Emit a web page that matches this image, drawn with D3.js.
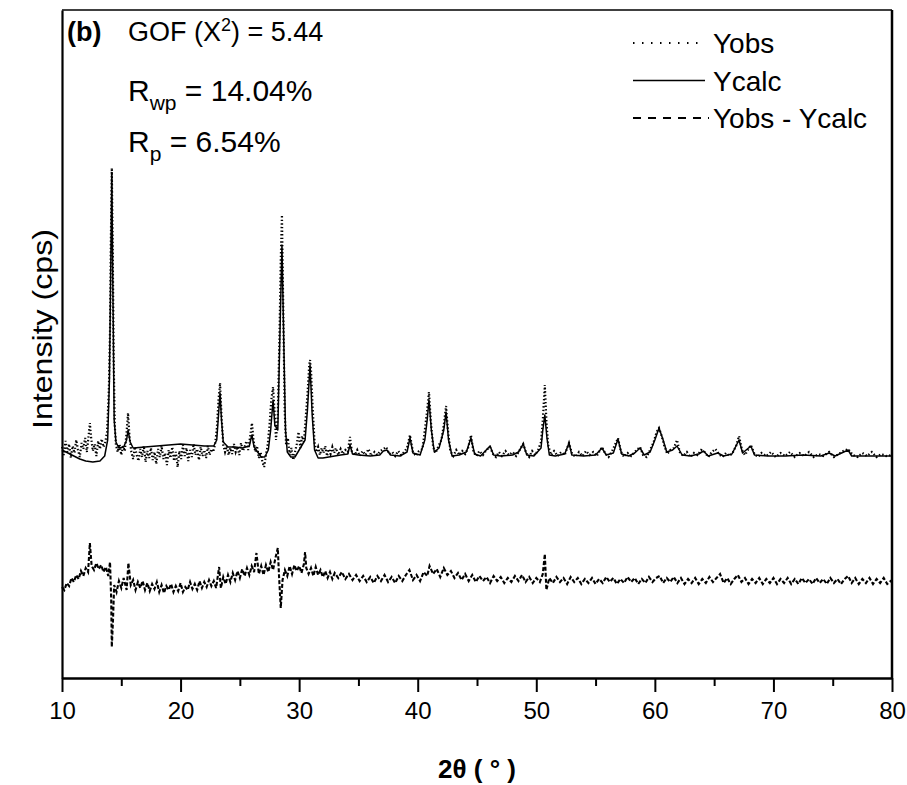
<!DOCTYPE html>
<html>
<head>
<meta charset="utf-8">
<script src="https://cdn.jsdelivr.net/npm/d3@7"></script>
<style>
  body { margin: 0; background: #fff; }
  text { font-family: "Liberation Sans", Arial, sans-serif; fill: #000; }
</style>
</head>
<body>
<svg id="chart" width="907" height="785"></svg>
<script>
// 2theta (deg), intensity (cps)
const yObs = [
  [10.0,2310],[10.15,2230],[10.3,2370],[10.45,2260],[10.6,2340],[10.75,2200],[10.9,2320],[11.05,2250],
  [11.2,2380],[11.35,2280],[11.5,2210],[11.65,2350],[11.8,2290],[11.95,2400],[12.1,2260],[12.25,2430],
  [12.35,2550],[12.45,2410],[12.6,2270],[12.75,2340],[12.9,2220],[13.05,2370],[13.2,2290],[13.35,2390],
  [13.5,2310],[13.65,2360],[13.8,2460],[13.95,2880],[14.05,3480],[14.12,4380],[14.2,5100],[14.28,4280],
  [14.36,3180],[14.45,2530],[14.55,2330],[14.7,2260],[14.85,2340],[15.0,2230],[15.15,2320],[15.3,2270],
  [15.45,2460],[15.57,2650],[15.7,2400],[15.85,2260],[16.0,2190],[16.15,2310],[16.3,2230],[16.45,2170],
  [16.6,2290],[16.75,2210],[16.9,2320],[17.05,2160],[17.2,2270],[17.35,2200],[17.5,2300],[17.65,2180],
  [17.8,2260],[17.95,2140],[18.1,2290],[18.25,2210],[18.4,2320],[18.55,2190],[18.7,2250],[18.85,2130],
  [19.0,2280],[19.15,2200],[19.3,2310],[19.45,2170],[19.6,2260],[19.75,2110],[19.9,2270],[20.05,2190],
  [20.2,2330],[20.35,2220],[20.5,2300],[20.65,2170],[20.8,2280],[20.95,2210],[21.1,2340],[21.25,2230],
  [21.4,2290],[21.55,2180],[21.7,2310],[21.85,2220],[22.0,2280],[22.15,2200],[22.3,2320],[22.45,2230],
  [22.6,2290],[22.75,2260],[22.9,2330],[23.05,2480],[23.2,2780],[23.33,2950],[23.45,2630],[23.6,2330],
  [23.75,2260],[23.9,2320],[24.05,2230],[24.2,2300],[24.35,2240],[24.5,2340],[24.65,2260],[24.8,2310],
  [24.95,2230],[25.1,2350],[25.25,2270],[25.4,2310],[25.55,2370],[25.7,2280],[25.85,2400],[26.02,2550],
  [26.15,2380],[26.3,2260],[26.45,2320],[26.6,2200],[26.75,2260],[26.9,2160],[27.05,2110],[27.2,2230],
  [27.35,2330],[27.5,2530],[27.65,2780],[27.8,2910],[27.92,2680],[28.05,2380],[28.2,2630],[28.35,3480],
  [28.45,4180],[28.55,4630],[28.65,3780],[28.78,2680],[28.9,2330],[29.05,2400],[29.2,2230],[29.35,2300],
  [29.5,2180],[29.65,2260],[29.8,2340],[29.95,2460],[30.1,2300],[30.25,2420],[30.4,2360],[30.55,2600],
  [30.7,2830],[30.85,3130],[30.92,3180],[31.0,3080],[31.15,2680],[31.3,2360],[31.45,2260],[31.6,2310],
  [31.75,2230],[31.9,2300],[32.05,2250],[32.2,2320],[32.35,2220],[32.5,2290],[32.65,2240],[32.8,2310],
  [32.95,2250],[33.1,2300],[33.3,2230],[33.5,2290],[33.7,2240],[33.9,2280],[34.1,2260],[34.29,2410],
  [34.45,2260],[34.7,2230],[34.9,2280],[35.1,2220],[35.35,2270],[35.6,2230],[35.85,2290],[36.1,2220],
  [36.35,2260],[36.6,2230],[36.85,2270],[37.1,2290],[37.35,2310],[37.6,2240],[37.85,2260],[38.1,2220],
  [38.35,2270],[38.6,2230],[38.85,2260],[39.1,2300],[39.35,2430],[39.6,2260],[39.85,2220],[40.1,2270],
  [40.4,2290],[40.6,2480],[40.8,2680],[40.95,2860],[41.1,2580],[41.3,2310],[41.5,2250],[41.75,2320],
  [42.0,2380],[42.2,2530],[42.39,2720],[42.55,2480],[42.75,2270],[43.0,2220],[43.25,2280],[43.5,2230],
  [43.75,2270],[44.0,2240],[44.25,2300],[44.49,2430],[44.7,2260],[44.95,2220],[45.2,2270],[45.5,2230],
  [45.8,2280],[46.1,2310],[46.35,2240],[46.6,2210],[46.85,2260],[47.1,2220],[47.4,2270],[47.7,2230],
  [48.0,2260],[48.3,2220],[48.6,2280],[48.9,2340],[49.15,2250],[49.4,2210],[49.65,2270],[49.9,2230],
  [50.15,2280],[50.4,2360],[50.55,2580],[50.72,2930],[50.85,2580],[51.0,2330],[51.25,2230],[51.5,2270],
  [51.8,2220],[52.1,2260],[52.4,2230],[52.76,2350],[53.0,2250],[53.3,2210],[53.6,2260],[53.9,2220],
  [54.2,2270],[54.5,2230],[54.8,2260],[55.1,2220],[55.54,2310],[55.8,2250],[56.1,2210],[56.4,2270],
  [56.89,2400],[57.15,2260],[57.4,2210],[57.7,2250],[58.0,2220],[58.3,2260],[58.75,2310],[59.0,2230],
  [59.3,2210],[59.6,2280],[59.9,2360],[60.15,2460],[60.35,2500],[60.55,2430],[60.8,2320],[61.05,2240],
  [61.3,2280],[61.6,2300],[61.87,2380],[62.1,2260],[62.4,2220],[62.7,2260],[63.0,2210],[63.3,2250],
  [63.6,2230],[63.9,2280],[64.2,2260],[64.5,2210],[64.8,2260],[65.1,2290],[65.4,2240],[65.7,2210],
  [66.0,2250],[66.3,2220],[66.6,2260],[66.85,2320],[67.1,2420],[67.35,2280],[67.6,2230],[67.85,2280],
  [68.1,2330],[68.4,2240],[68.7,2210],[69.0,2250],[69.4,2220],[69.8,2260],[70.2,2210],[70.6,2250],
  [71.0,2220],[71.4,2260],[71.8,2210],[72.2,2250],[72.6,2220],[73.0,2260],[73.4,2210],[73.8,2240],
  [74.2,2220],[74.7,2260],[75.1,2210],[75.5,2240],[75.9,2270],[76.3,2290],[76.7,2230],[77.1,2210],
  [77.5,2250],[77.9,2220],[78.3,2260],[78.7,2210],[79.1,2240],[79.5,2220],[80.0,2230]
];

const yCalc = [
  [10.0,2280],[10.5,2250],[11.0,2220],[11.5,2190],[12.0,2170],[12.6,2160],[13.2,2170],[13.6,2220],
  [13.85,2380],[14.0,2980],[14.1,3980],[14.2,5050],[14.3,3780],[14.4,2580],[14.55,2360],[14.8,2300],
  [15.2,2310],[15.45,2380],[15.57,2480],[15.75,2360],[16.0,2300],[17.0,2310],[18.0,2320],[19.0,2330],
  [20.0,2340],[21.0,2330],[22.0,2320],[22.8,2320],[23.05,2380],[23.2,2630],[23.33,2850],[23.45,2580],
  [23.6,2360],[24.0,2310],[24.6,2310],[25.2,2300],[25.8,2320],[25.95,2400],[26.02,2430],[26.2,2310],
  [26.5,2260],[26.8,2210],[27.1,2210],[27.4,2280],[27.6,2480],[27.8,2780],[27.95,2530],[28.2,2480],
  [28.35,3280],[28.55,4330],[28.7,3380],[28.85,2480],[29.0,2260],[29.3,2210],[29.65,2210],[30.0,2280],
  [30.5,2380],[30.7,2680],[30.92,3130],[31.1,2630],[31.3,2280],[31.6,2200],[32.0,2200],[32.5,2210],
  [33.0,2220],[33.5,2230],[34.1,2240],[34.29,2330],[34.5,2240],[35.0,2230],[36.0,2220],[36.8,2230],
  [37.1,2270],[37.4,2280],[37.7,2230],[38.5,2220],[39.1,2260],[39.35,2400],[39.6,2250],[40.2,2230],
  [40.6,2380],[40.8,2580],[40.95,2780],[41.15,2480],[41.4,2260],[41.8,2300],[42.2,2480],[42.39,2660],
  [42.6,2380],[42.9,2220],[43.5,2230],[44.1,2260],[44.49,2400],[44.8,2240],[45.3,2220],[46.1,2320],
  [46.4,2230],[47.0,2220],[48.0,2230],[48.5,2260],[48.9,2340],[49.2,2230],[49.8,2220],[50.4,2300],
  [50.55,2480],[50.72,2630],[50.9,2400],[51.1,2230],[51.6,2220],[52.4,2240],[52.76,2350],[53.0,2230],
  [54.0,2220],[55.0,2230],[55.54,2300],[55.9,2230],[56.5,2250],[56.89,2390],[57.2,2240],[57.8,2220],
  [58.3,2250],[58.75,2300],[59.1,2230],[59.6,2260],[60.0,2380],[60.35,2500],[60.7,2380],[61.0,2260],
  [61.5,2280],[61.87,2320],[62.3,2230],[63.0,2220],[63.7,2240],[64.1,2270],[64.5,2220],[65.3,2250],
  [65.8,2220],[66.5,2240],[67.1,2380],[67.4,2250],[68.1,2320],[68.4,2230],[69.5,2220],[71.0,2220],
  [72.5,2230],[74.0,2220],[74.7,2250],[75.2,2220],[76.3,2280],[76.6,2220],[78.0,2220],[80.0,2220]
];

// residual Yobs - Ycalc (cps), drawn shifted down by diffOffset
const yDiff = [
  [10.0,-40],[10.2,-70],[10.4,0],[10.6,-30],[10.8,50],[11.0,10],[11.2,80],[11.4,40],[11.6,120],[11.8,70],
  [12.0,150],[12.2,110],[12.35,400],[12.5,170],[12.7,130],[12.9,200],[13.1,140],[13.3,180],[13.5,110],
  [13.7,160],[13.9,70],[14.05,210],[14.15,-170],[14.2,-640],[14.3,-370],[14.4,-20],[14.6,-90],[14.8,20],
  [15.0,-50],[15.2,50],[15.45,-70],[15.6,200],[15.8,-20],[16.0,30],[16.2,-70],[16.4,10],[16.6,-50],
  [16.8,20],[17.0,-70],[17.2,0],[17.4,-80],[17.6,-10],[17.8,-60],[18.0,10],[18.2,-90],[18.4,-20],
  [18.6,-100],[18.8,-30],[19.0,-70],[19.2,-10],[19.4,-90],[19.6,-30],[19.8,-80],[20.0,0],[20.2,-90],
  [20.4,-40],[20.6,-70],[20.8,10],[21.0,-60],[21.2,-10],[21.4,-70],[21.6,20],[21.8,-50],[22.0,10],
  [22.2,-40],[22.4,30],[22.6,-30],[22.8,20],[23.0,-50],[23.25,160],[23.4,-50],[23.6,60],[23.8,-10],
  [24.0,80],[24.2,10],[24.4,100],[24.6,30],[24.8,120],[25.0,50],[25.2,140],[25.4,70],[25.6,150],
  [25.8,80],[26.0,170],[26.2,110],[26.4,300],[26.6,90],[26.8,170],[27.0,80],[27.2,180],[27.4,110],
  [27.6,210],[27.8,130],[28.0,250],[28.2,350],[28.3,80],[28.45,-250],[28.6,30],[28.8,130],[29.0,70],
  [29.2,170],[29.4,90],[29.6,180],[29.8,120],[30.0,170],[30.2,100],[30.4,190],[30.5,310],[30.6,150],
  [30.8,90],[31.0,150],[31.2,70],[31.4,160],[31.6,80],[31.8,130],[32.0,60],[32.2,120],[32.4,50],
  [32.6,110],[32.8,40],[33.0,100],[33.3,50],[33.6,110],[33.9,40],[34.2,90],[34.5,30],[34.8,80],
  [35.1,20],[35.4,70],[35.7,10],[36.0,60],[36.3,0],[36.6,70],[36.9,20],[37.2,80],[37.5,10],[37.8,60],
  [38.1,0],[38.4,70],[38.7,20],[39.0,80],[39.3,130],[39.6,30],[39.9,80],[40.2,20],[40.5,110],[40.8,70],
  [41.0,170],[41.3,90],[41.6,140],[41.9,60],[42.2,150],[42.5,80],[42.8,120],[43.1,50],[43.4,100],
  [43.7,30],[44.0,90],[44.3,20],[44.6,80],[44.9,10],[45.2,70],[45.5,20],[45.8,60],[46.1,0],[46.4,70],
  [46.7,20],[47.0,60],[47.3,0],[47.6,50],[47.9,10],[48.2,70],[48.5,20],[48.8,80],[49.1,10],[49.4,60],
  [49.7,0],[50.0,50],[50.3,10],[50.55,90],[50.72,290],[50.85,-70],[51.1,50],[51.4,0],[51.7,60],
  [52.0,10],[52.3,50],[52.6,-10],[52.9,60],[53.2,10],[53.5,50],[53.8,-10],[54.1,40],[54.4,0],[54.7,50],
  [55.0,-10],[55.3,40],[55.6,0],[55.9,60],[56.2,10],[56.5,50],[56.8,-10],[57.1,40],[57.4,0],[57.7,60],
  [58.0,10],[58.3,50],[58.6,-10],[58.9,40],[59.2,0],[59.5,60],[59.8,10],[60.1,50],[60.4,70],[60.7,0],
  [61.0,50],[61.3,10],[61.6,60],[61.9,0],[62.2,50],[62.5,-10],[62.8,40],[63.1,0],[63.4,50],[63.7,-10],
  [64.0,40],[64.3,0],[64.6,60],[64.9,10],[65.2,50],[65.5,90],[65.8,0],[66.1,50],[66.4,-10],[66.7,40],
  [67.0,80],[67.3,10],[67.6,50],[67.9,-10],[68.2,40],[68.5,0],[68.8,50],[69.1,-10],[69.4,40],[69.7,0],
  [70.0,50],[70.3,-10],[70.6,40],[70.9,0],[71.2,50],[71.5,-10],[71.8,40],[72.1,-10],[72.4,50],[72.7,0],
  [73.0,40],[73.3,-10],[73.6,50],[73.9,0],[74.2,40],[74.5,-10],[74.8,50],[75.1,0],[75.4,40],[75.7,-10],
  [76.0,40],[76.3,70],[76.6,0],[76.9,50],[77.2,-10],[77.5,40],[77.8,0],[78.1,50],[78.4,-10],[78.7,40],
  [79.0,0],[79.3,50],[79.6,-10],[80.0,30]
];
const diffOffset = 950;

const xTicks = [10, 20, 30, 40, 50, 60, 70, 80];
const xMinorTicks = [15, 25, 35, 45, 55, 65, 75];
const legendLabels = ["Yobs", "Ycalc", "Yobs - Ycalc"];

const margin = { top: 10, right: 15, bottom: 107, left: 62 };
const width = 907 - margin.left - margin.right;
const height = 785 - margin.top - margin.bottom;

const svg = d3.select("#chart");
const g = svg.append("g").attr("transform", `translate(${margin.left},${margin.top})`);

const x = d3.scaleLinear().domain([10, 80]).range([0, width]);
const y = d3.scaleLinear().domain([0, 6680]).range([height, 0]);

const line = d3.line().x(d => x(d[0])).y(d => y(d[1]));

// Ycalc
g.append("path").datum(yCalc)
  .attr("d", line)
  .attr("fill", "none").attr("stroke", "#000").attr("stroke-width", 1.5)
  .attr("stroke-linejoin", "round");

// Yobs
g.append("path").datum(yObs)
  .attr("d", line)
  .attr("fill", "none").attr("stroke", "#000").attr("stroke-width", 2.2)
  .attr("stroke-dasharray", "1.4 2.2");

// difference
g.append("path").datum(yDiff.map(d => [d[0], d[1] + diffOffset]))
  .attr("d", line)
  .attr("fill", "none").attr("stroke", "#000").attr("stroke-width", 2.1)
  .attr("stroke-dasharray", "4 2");

// frame
g.append("line").attr("x1", 0).attr("x2", width).attr("y1", 0).attr("y2", 0)
  .attr("stroke", "#000").attr("stroke-width", 1.5);
g.append("line").attr("x1", width).attr("x2", width).attr("y1", 0).attr("y2", height)
  .attr("stroke", "#000").attr("stroke-width", 2.5);

g.append("g")
  .call(d3.axisLeft(y).tickValues([]).tickSizeOuter(0))
  .call(a => a.select(".domain").attr("stroke-width", 2.2));

// x axis: major and minor ticks
g.append("g")
  .attr("transform", `translate(0,${height})`)
  .call(d3.axisBottom(x).tickValues(xMinorTicks).tickSize(8).tickFormat(""))
  .call(a => a.select(".domain").remove())
  .call(a => a.selectAll("line").attr("stroke-width", 2));

g.append("g")
  .attr("transform", `translate(0,${height})`)
  .call(d3.axisBottom(x).tickValues(xTicks).tickSize(14).tickSizeOuter(0).tickPadding(10))
  .call(a => a.select(".domain").attr("stroke-width", 2.5))
  .call(a => a.selectAll("line").attr("stroke-width", 2))
  .call(a => a.selectAll("text")
    .style("font-family", '"Liberation Sans", Arial, sans-serif')
    .style("font-size", "24px"));

// axis titles
svg.append("text")
  .attr("x", 477).attr("y", 778)
  .attr("text-anchor", "middle")
  .style("font-size", "26px").style("font-weight", "bold")
  .text("2θ ( ° )");

svg.append("text")
  .attr("transform", "translate(52,329) rotate(-90)")
  .attr("text-anchor", "middle")
  .attr("textLength", 200).attr("lengthAdjust", "spacingAndGlyphs")
  .style("font-size", "28px")
  .text("Intensity (cps)");

// fit statistics
svg.append("text").attr("x", 67).attr("y", 41)
  .style("font-size", "27px").style("font-weight", "bold").text("(b)");
const gof = svg.append("text").attr("x", 128).attr("y", 41).style("font-size", "27px");
gof.append("tspan").text("GOF (X");
gof.append("tspan").attr("dy", -10).style("font-size", "18px").text("2");
gof.append("tspan").attr("dy", 10).text(") = 5.44");

const rwp = svg.append("text").attr("x", 128).attr("y", 101).style("font-size", "30px");
rwp.append("tspan").text("R");
rwp.append("tspan").attr("dy", 9).style("font-size", "21px").text("wp");
rwp.append("tspan").attr("dy", -9).text(" = 14.04%");

const rp = svg.append("text").attr("x", 128).attr("y", 152).style("font-size", "30px");
rp.append("tspan").text("R");
rp.append("tspan").attr("dy", 9).style("font-size", "21px").text("p");
rp.append("tspan").attr("dy", -9).text(" = 6.54%");

// legend
const legendDash = ["1.5 7.5", null, "8 7"];
const legend = svg.append("g").attr("transform", "translate(633,43)");
legendLabels.forEach((label, i) => {
  const row = legend.append("g").attr("transform", `translate(0,${i * 37.5})`);
  row.append("line").attr("x1", 0).attr("x2", i === 2 ? 76 : 72).attr("y1", 0).attr("y2", 0)
    .attr("stroke", "#000").attr("stroke-width", i === 1 ? 1.5 : 2)
    .attr("stroke-dasharray", legendDash[i]);
  row.append("text").attr("x", 80).attr("y", 10)
    .style("font-size", "28px").text(label);
});
</script>
</body>
</html>
